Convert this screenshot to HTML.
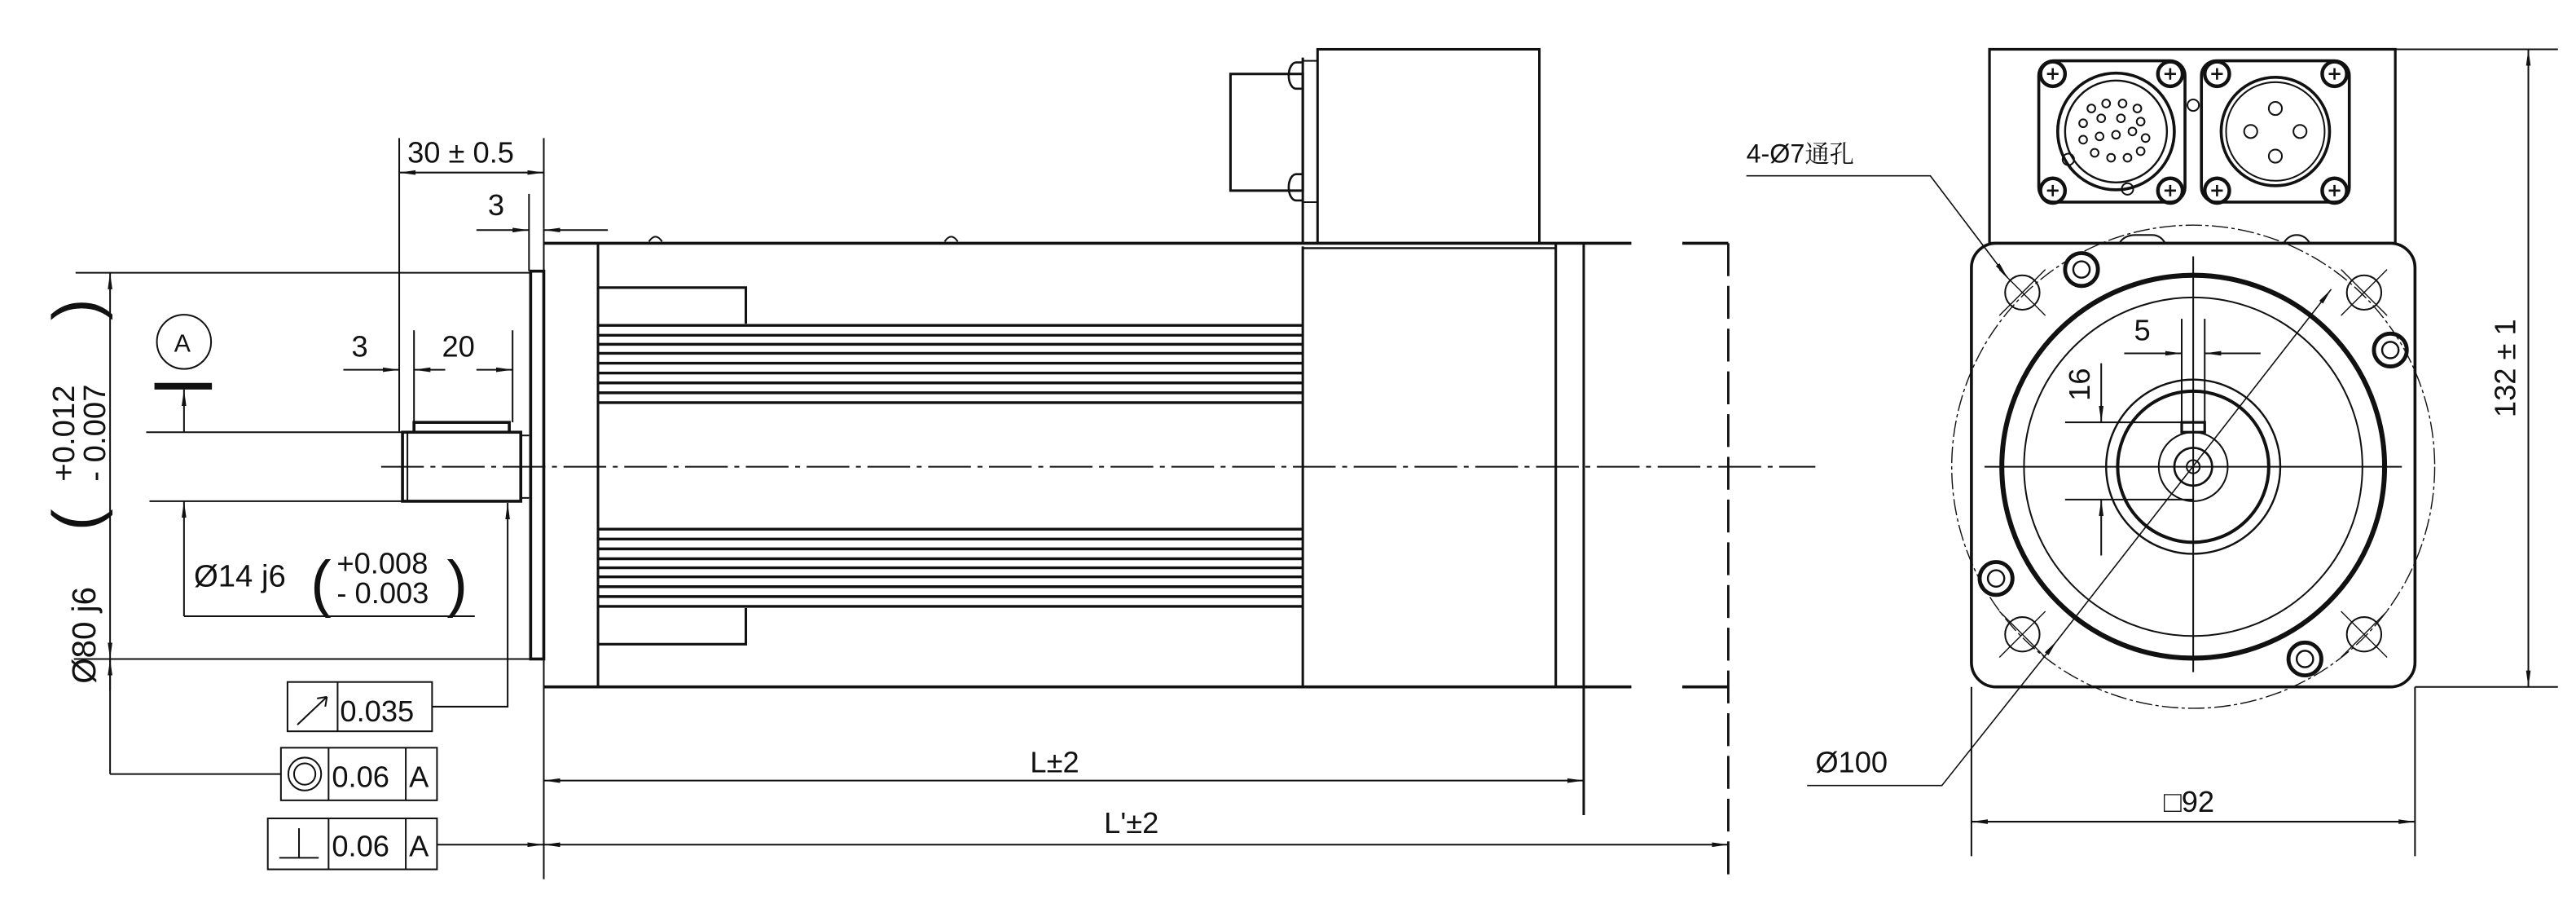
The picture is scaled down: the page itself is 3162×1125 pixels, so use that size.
<!DOCTYPE html>
<html><head><meta charset="utf-8"><style>
html,body{margin:0;padding:0;background:#fff;}
svg{display:block;}
text{font-family:"Liberation Sans","Noto Sans CJK SC",sans-serif;fill:#111;}
</style></head><body>
<svg width="3162" height="1125" viewBox="0 0 1568 558" preserveAspectRatio="none" xmlns="http://www.w3.org/2000/svg">
<defs>
<marker id="a" viewBox="0 0 10 4" refX="10" refY="2" markerWidth="10" markerHeight="4" markerUnits="userSpaceOnUse" orient="auto-start-reverse"><path d="M0,0.6 L10,2 L0,3.4z" fill="#111"/></marker>
</defs>
<g fill="none" stroke="#111" stroke-width="1">
<line x1="232" y1="284" x2="1105" y2="284" stroke-dasharray="26,4,3,4"/>
<rect x="323" y="165" width="8" height="236" stroke-width="1.8"/>
<line x1="331" y1="139" x2="331" y2="535"/>
<line x1="331" y1="148" x2="993" y2="148" stroke-width="1.8"/>
<line x1="331" y1="418" x2="993" y2="418" stroke-width="1.8"/>
<line x1="1024" y1="148" x2="1052" y2="148" stroke-width="1.8"/>
<line x1="1024" y1="418" x2="1052" y2="418" stroke-width="1.8"/>
<line x1="1052" y1="148" x2="1052" y2="534" stroke-width="1.4" stroke-dasharray="20,6"/>
<line x1="364" y1="148" x2="364" y2="418" stroke-width="1.5"/>
<line x1="793" y1="150" x2="793" y2="418" stroke-width="1.5"/>
<line x1="793" y1="151" x2="947" y2="151" stroke-width="1.2"/>
<line x1="947" y1="148" x2="947" y2="418" stroke-width="1.5"/>
<line x1="964" y1="148" x2="964" y2="496" stroke-width="1.5"/>
<path d="M395,147 q4,-6 8,0 M575,147 q4,-6 8,0" />
<path d="M364,175 H454 V197 M364,392 H454 V370" stroke-width="1.5"/>
<g stroke-width="1.7">
<line x1="364" y1="198" x2="793" y2="198"/><line x1="364" y1="204" x2="793" y2="204"/><line x1="364" y1="209.5" x2="793" y2="209.5"/><line x1="364" y1="215" x2="793" y2="215"/><line x1="364" y1="221" x2="793" y2="221"/><line x1="364" y1="227" x2="793" y2="227"/><line x1="364" y1="233" x2="793" y2="233"/><line x1="364" y1="239" x2="793" y2="239"/><line x1="364" y1="245" x2="793" y2="245"/>
<line x1="364" y1="322" x2="793" y2="322"/><line x1="364" y1="328" x2="793" y2="328"/><line x1="364" y1="334" x2="793" y2="334"/><line x1="364" y1="340" x2="793" y2="340"/><line x1="364" y1="345.5" x2="793" y2="345.5"/><line x1="364" y1="351" x2="793" y2="351"/><line x1="364" y1="357" x2="793" y2="357"/><line x1="364" y1="363" x2="793" y2="363"/><line x1="364" y1="369" x2="793" y2="369"/>
</g>
<rect x="802" y="30" width="135" height="118" stroke-width="1.5"/>
<rect x="749" y="45" width="44" height="71" stroke-width="1.5"/>
<line x1="793" y1="35" x2="793" y2="148" stroke-width="1.5"/>
<path d="M793,37 H802 M793,123 H802"/>
<path d="M793,38 h-4 a4,7 0 0 0 0,16 h4 M793,106 h-4 a4,7 0 0 0 0,16 h4" stroke-width="1.3"/>
<rect x="245" y="263" width="72" height="42" stroke-width="1.8"/>
<line x1="248" y1="263" x2="248" y2="305"/>
<path d="M252,263 V257 H310 V263" stroke-width="1.8"/>
<path d="M317,265 H322 M317,303 H322"/>
<line x1="243" y1="84" x2="243" y2="263"/>
<line x1="331" y1="84" x2="331" y2="139"/>
<line x1="243" y1="105" x2="331" y2="105" marker-start="url(#a)" marker-end="url(#a)"/>
<line x1="322" y1="118" x2="322" y2="165"/>
<line x1="290" y1="140" x2="322" y2="140" marker-end="url(#a)"/>
<line x1="370" y1="140" x2="331" y2="140" marker-end="url(#a)"/>
<line x1="252" y1="201" x2="252" y2="257"/>
<line x1="312" y1="201" x2="312" y2="257"/>
<line x1="209" y1="225" x2="243" y2="225" marker-end="url(#a)"/>
<line x1="252" y1="225" x2="271" y2="225" marker-start="url(#a)"/>
<line x1="290" y1="225" x2="312" y2="225" marker-end="url(#a)"/>
<circle cx="112" cy="208" r="16.5"/>
<line x1="94" y1="235" x2="129" y2="235" stroke-width="4"/>
<line x1="112" y1="237" x2="112" y2="263" marker-start="url(#a)"/>
<line x1="112" y1="305" x2="112" y2="375" marker-start="url(#a)"/>
<line x1="112" y1="375" x2="289" y2="375"/>
<line x1="89" y1="263" x2="245" y2="263"/>
<line x1="91" y1="305" x2="245" y2="305"/>
<line x1="46" y1="166" x2="323" y2="166"/>
<line x1="45" y1="401" x2="323" y2="401"/>
<line x1="67" y1="166" x2="67" y2="401" marker-start="url(#a)" marker-end="url(#a)"/>
<line x1="67" y1="401" x2="67" y2="471"/>
<line x1="67" y1="471" x2="171" y2="471"/>
<line x1="67" y1="401" x2="67" y2="420" marker-start="url(#a)"/>
<rect x="175" y="415" width="88" height="30"/>
<line x1="205.5" y1="415" x2="205.5" y2="445"/>
<path d="M181,441 L199,424 M199,424 l-6,1 M199,424 l-1,6"/>
<path d="M263,430 H309 V306" marker-end="url(#a)"/>
<rect x="171" y="455" width="95" height="32"/>
<line x1="200" y1="455" x2="200" y2="487"/><line x1="247" y1="455" x2="247" y2="487"/>
<ellipse cx="185.5" cy="471" rx="10" ry="10"/><ellipse cx="185.5" cy="471" rx="6.5" ry="6.5"/>
<rect x="163" y="498" width="103" height="31"/>
<line x1="200" y1="498" x2="200" y2="529"/><line x1="247" y1="498" x2="247" y2="529"/>
<path d="M170,522 H194 M182,522 V504"/>
<line x1="266" y1="514" x2="331" y2="514" marker-end="url(#a)"/>
<line x1="331" y1="475" x2="964" y2="475" marker-start="url(#a)" marker-end="url(#a)"/>
<line x1="331" y1="514" x2="1052" y2="514" marker-start="url(#a)" marker-end="url(#a)"/>

<rect x="1211" y="30" width="247" height="118" stroke-width="1.6"/>
<path d="M1214,148 H1455 A15,15 0 0 1 1470,163 V403 A15,15 0 0 1 1455,418 H1215 A15,15 0 0 1 1200,403 V163 A15,15 0 0 1 1215,148z" stroke-width="1.8"/>
<circle cx="1335" cy="284" r="147" stroke-width="0.7" stroke-dasharray="10,2,2,2"/>
<circle cx="1335" cy="284" r="116.5" stroke-width="3"/>
<circle cx="1335" cy="284" r="103"/>
<circle cx="1335" cy="284" r="53" stroke-width="1.2"/>
<circle cx="1335" cy="284" r="46" stroke-width="2"/>
<circle cx="1335" cy="284" r="21"/>
<circle cx="1335" cy="284" r="11.5" stroke-width="1.3"/>
<circle cx="1335" cy="284" r="4"/>
<line x1="1208" y1="284" x2="1462" y2="284"/>
<line x1="1335" y1="156" x2="1335" y2="409"/>
<path d="M1328,194 V263 M1342,194 V263"/>
<rect x="1328" y="257" width="14" height="6" stroke-width="1.6"/>
<g>
<circle cx="1231" cy="178" r="10.5"/><circle cx="1439" cy="178" r="10.5"/><circle cx="1231" cy="386" r="10.5"/><circle cx="1439" cy="386" r="10.5"/>
<path d="M1217,164 l28,28 M1245,164 l-28,28 M1425,164 l28,28 M1453,164 l-28,28 M1217,372 l28,28 M1245,372 l-28,28 M1425,372 l28,28 M1453,372 l-28,28" stroke-width="0.7"/>
</g>
<g stroke-width="2.4">
<circle cx="1267" cy="164" r="10"/><circle cx="1455" cy="213" r="10"/><circle cx="1215" cy="352" r="10"/><circle cx="1403" cy="401" r="10"/>
</g>
<g stroke-width="1.2">
<circle cx="1267" cy="164" r="5"/><circle cx="1455" cy="213" r="5"/><circle cx="1215" cy="352" r="5"/><circle cx="1403" cy="401" r="5"/>
</g>
<path d="M1290,148 q3,-5 10,-5 h10 q5,0 8,5 M1390,148 q3,-5 8,-5 q5,0 8,5" />
<rect x="1241" y="37" width="89" height="86" rx="9" stroke-width="1.8"/>
<rect x="1340" y="37" width="90" height="86" rx="9" stroke-width="1.8"/>
<g stroke-width="2.2">
<circle cx="1249.5" cy="45" r="7.5"/><circle cx="1321" cy="45" r="7.5"/><circle cx="1249.5" cy="116" r="7.5"/><circle cx="1321" cy="116" r="7.5"/>
<circle cx="1349.5" cy="45" r="7.5"/><circle cx="1421" cy="45" r="7.5"/><circle cx="1349.5" cy="116" r="7.5"/><circle cx="1421" cy="116" r="7.5"/>
</g>
<path d="M1246,45 h7 M1249.5,41.5 v7 M1317.5,45 h7 M1321,41.5 v7 M1246,116 h7 M1249.5,112.5 v7 M1317.5,116 h7 M1321,112.5 v7 M1346,45 h7 M1349.5,41.5 v7 M1417.5,45 h7 M1421,41.5 v7 M1346,116 h7 M1349.5,112.5 v7 M1417.5,116 h7 M1421,112.5 v7" stroke-width="1.3"/>
<circle cx="1288" cy="80" r="35.5" stroke-width="1.8"/>
<circle cx="1288" cy="80" r="31" stroke-width="1.2"/>
<circle cx="1385" cy="80" r="33" stroke-width="1.8"/>
<circle cx="1385" cy="80" r="30" stroke-width="1"/>
<g stroke-width="1">
<circle cx="1259" cy="97" r="3.5"/><circle cx="1335" cy="64" r="3.5"/><circle cx="1295" cy="115" r="3.5"/>
<circle cx="1273" cy="66" r="2.4"/><circle cx="1282" cy="63" r="2.4"/><circle cx="1292" cy="63" r="2.4"/><circle cx="1301" cy="66" r="2.4"/>
<circle cx="1268" cy="75" r="2.4"/><circle cx="1279" cy="72" r="2.4"/><circle cx="1291" cy="72" r="2.4"/><circle cx="1303" cy="74" r="2.4"/>
<circle cx="1268" cy="85" r="2.4"/><circle cx="1278" cy="83" r="2.4"/><circle cx="1288" cy="82" r="2.4"/><circle cx="1298" cy="80" r="2.4"/><circle cx="1306" cy="84" r="2.4"/>
<circle cx="1275" cy="93" r="2.4"/><circle cx="1285" cy="96" r="2.4"/><circle cx="1295" cy="96" r="2.4"/><circle cx="1303" cy="92" r="2.4"/>
<circle cx="1385" cy="66" r="4"/><circle cx="1370" cy="80" r="4"/><circle cx="1400" cy="80" r="4"/><circle cx="1385" cy="95" r="4"/>
</g>
<line x1="1293" y1="215" x2="1328" y2="215" marker-end="url(#a)"/>
<line x1="1376" y1="215" x2="1342" y2="215" marker-end="url(#a)"/>
<line x1="1257" y1="257" x2="1328" y2="257"/>
<line x1="1257" y1="304" x2="1335" y2="304"/>
<line x1="1279" y1="221" x2="1279" y2="257" marker-end="url(#a)"/>
<line x1="1279" y1="338" x2="1279" y2="304" marker-end="url(#a)"/>
<line x1="1458" y1="30" x2="1557" y2="30"/>
<line x1="1470" y1="418" x2="1557" y2="418"/>
<line x1="1539" y1="30" x2="1539" y2="418" marker-start="url(#a)" marker-end="url(#a)"/>
<line x1="1200" y1="418" x2="1200" y2="521"/>
<line x1="1470" y1="418" x2="1470" y2="521"/>
<line x1="1200" y1="500" x2="1470" y2="500" marker-start="url(#a)" marker-end="url(#a)"/>
<path d="M1063,107 H1175 L1222,169" stroke-width="0.8" marker-end="url(#a)"/>
<path d="M1100,478 H1182 L1252,390" stroke-width="0.8" marker-end="url(#a)"/>
<line x1="1252" y1="390" x2="1419" y2="176" stroke-width="0.8" marker-end="url(#a)"/>
</g>
<g font-size="18">
<text x="248" y="99">30 ± 0.5</text>
<text x="297" y="131">3</text>
<text x="214" y="217">3</text>
<text x="269" y="217">20</text>
<text x="106" y="214" font-size="15">A</text>
<text x="118" y="357" font-size="19">Ø14 j6</text>
<text x="189" y="368" font-size="38">(</text>
<text x="205" y="349">+0.008</text>
<text x="205" y="367">- 0.003</text>
<text x="272" y="368" font-size="38">)</text>
<g transform="translate(58,285) rotate(-90)">
<text x="-131" y="0" font-size="20">Ø80 j6</text>
<text x="-38" y="2" font-size="40">(</text>
<text x="-8" y="-13" font-size="19">+0.012</text>
<text x="-8" y="6" font-size="19">- 0.007</text>
<text x="90" y="2" font-size="40">)</text>
</g>
<text x="207" y="439">0.035</text>
<text x="202" y="479">0.06</text><text x="249" y="479">A</text>
<text x="202" y="521">0.06</text><text x="249" y="521">A</text>
<text x="627" y="470">L±2</text>
<text x="672" y="507">L'±2</text>
<text x="1063" y="99" font-size="16">4-Ø7<tspan font-family="Noto Serif CJK SC, serif" font-size="15">通孔</tspan></text>
<text x="1105" y="470">Ø100</text>
<text x="1299" y="207">5</text>
<text x="1317" y="494">□92</text>
<g transform="translate(1272,244) rotate(-90)"><text x="0" y="0">16</text></g>
<g transform="translate(1531,254) rotate(-90)"><text x="0" y="0">132 ± 1</text></g>
</g>
</svg>
</body></html>
